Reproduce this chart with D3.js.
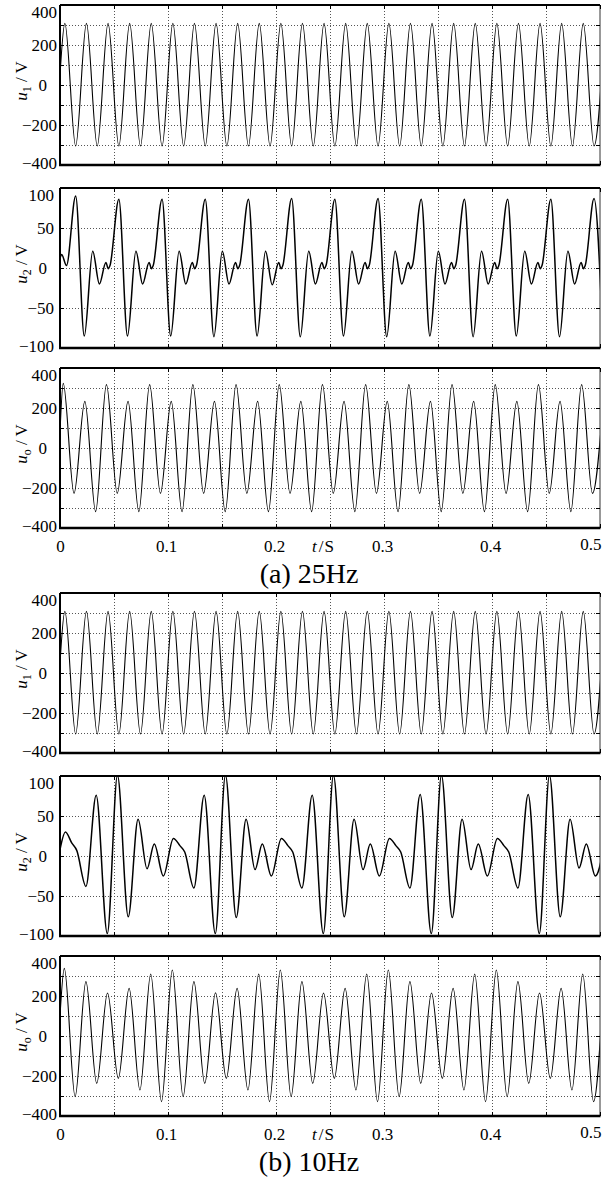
<html>
<head>
  <meta charset="utf-8">
  <script src="https://cdn.jsdelivr.net/npm/d3@7/dist/d3.min.js"></script>
</head>
<style>
  body { margin: 0; background: white; }
  svg, svg text { font-family: "Liberation Serif", "DejaVu Serif", serif; }
  .grid line { stroke: #555; stroke-dasharray: 1,2; }
  .grid path, .ax path { display: none; }
  .ax line { stroke: black; }
  .ax text { font-family: "Liberation Serif", "DejaVu Serif", serif; font-size: 17px; fill: black; }
</style>
<body>
  <svg width="615" height="1182" id="chart"></svg>
  <script>
    // time axis (s)
    var tTicks = [0, 0.05, 0.1, 0.15, 0.2, 0.25, 0.3, 0.35, 0.4, 0.45, 0.5];
    var tLabels = [0, 0.1, 0.2, 0.3, 0.4, 0.5];
    // voltage axes (V)
    var vTicks400 = [-400, -300, -200, -100, 0, 100, 200, 300, 400];
    var vLabels400 = [-400, -200, 0, 200, 400];
    var vTicks100 = [-100, -50, 0, 50, 100];

    // u1: same supply voltage in (a) and (b), [t, v] at the extrema
    var u1 = [
      [0, 50], [0.0045, 308], [0.0145, -305], [0.0245, 308], [0.0345, -305], [0.0445, 308], [0.0545, -305],
      [0.0645, 308], [0.0745, -305], [0.0845, 308], [0.0945, -305], [0.1045, 308], [0.1145, -305],
      [0.1245, 308], [0.1345, -305], [0.1445, 308], [0.1545, -305], [0.1645, 308], [0.1745, -305],
      [0.1845, 308], [0.1945, -305], [0.2045, 308], [0.2145, -305], [0.2245, 308], [0.2345, -305],
      [0.2445, 308], [0.2545, -305], [0.2645, 308], [0.2745, -305], [0.2845, 308], [0.2945, -305],
      [0.3045, 308], [0.3145, -305], [0.3245, 308], [0.3345, -305], [0.3445, 308], [0.3545, -305],
      [0.3645, 308], [0.3745, -305], [0.3845, 308], [0.3945, -305], [0.4045, 308], [0.4145, -305],
      [0.4245, 308], [0.4345, -305], [0.4445, 308], [0.4545, -305], [0.4645, 308], [0.4745, -305],
      [0.4845, 308], [0.4945, -305], [0.5045, 308]
    ];

    // (a) 25Hz
    var u2a = [
      [0, 12], [0.0015, 17], [0.006, 3],
      [0.0145, 90], [0.0225, -85], [0.0303, 21], [0.0365, -20], [0.0425, 7], [0.0447, -1], [0.0463, 3],
      [0.0545, 86], [0.0625, -85], [0.0703, 21], [0.0765, -20], [0.0825, 7], [0.0847, -1], [0.0863, 3],
      [0.0945, 86], [0.1025, -85], [0.1103, 21], [0.1165, -20], [0.1225, 7], [0.1247, -1], [0.1263, 3],
      [0.1345, 86], [0.1425, -86], [0.1503, 21], [0.1565, -20], [0.1625, 7], [0.1647, -1], [0.1663, 3],
      [0.1745, 86], [0.1825, -85], [0.1903, 21], [0.1965, -21], [0.2025, 7], [0.2047, -1], [0.2063, 3],
      [0.2145, 87], [0.2225, -86], [0.2303, 21], [0.2365, -20], [0.2425, 7], [0.2447, -1], [0.2463, 3],
      [0.2545, 86], [0.2625, -85], [0.2703, 21], [0.2765, -20], [0.2825, 7], [0.2847, -1], [0.2863, 3],
      [0.2945, 87], [0.3025, -86], [0.3103, 21], [0.3165, -20], [0.3225, 7], [0.3247, -1], [0.3263, 3],
      [0.3345, 86], [0.3425, -85], [0.3503, 21], [0.3565, -20], [0.3625, 7], [0.3647, -1], [0.3663, 3],
      [0.3745, 86], [0.3825, -86], [0.3903, 21], [0.3965, -20], [0.4025, 7], [0.4047, -1], [0.4063, 3],
      [0.4145, 86], [0.4225, -85], [0.4303, 21], [0.4365, -20], [0.4425, 7], [0.4447, -1], [0.4463, 3],
      [0.4545, 86], [0.4625, -86], [0.4703, 21], [0.4765, -20], [0.4825, 7], [0.4847, -1], [0.4863, 3],
      [0.4945, 87], [0.5025, -85]
    ];
    var uoa = [
      [0, 80],
      [0.003, 323], [0.013, -227], [0.023, 233], [0.033, -318], [0.043, 317], [0.053, -227], [0.063, 233], [0.073, -318],
      [0.083, 317], [0.093, -227], [0.103, 233], [0.113, -318], [0.123, 317], [0.133, -227], [0.143, 233], [0.153, -318],
      [0.163, 317], [0.173, -227], [0.183, 233], [0.193, -318], [0.203, 317], [0.213, -227], [0.223, 233], [0.233, -318],
      [0.243, 317], [0.253, -227], [0.263, 233], [0.273, -318], [0.283, 317], [0.293, -227], [0.303, 233], [0.313, -318],
      [0.323, 317], [0.333, -227], [0.343, 233], [0.353, -318], [0.363, 317], [0.373, -227], [0.383, 233], [0.393, -318],
      [0.403, 317], [0.413, -227], [0.423, 233], [0.433, -318], [0.443, 317], [0.453, -227], [0.463, 233], [0.473, -318],
      [0.483, 317], [0.493, -227], [0.503, 233]
    ];

    // (b) 10Hz
    var u2b = [
      [0, 8], [0.005, 30], [0.011, 16], [0.0155, 7], [0.024, -38], [0.0335, 76], [0.0438, -97], [0.0532, 101], [0.0632, -76], [0.0723, 46], [0.0806, -16], [0.0873, 15], [0.0957, -25],
      [0.105, 22], [0.111, 13], [0.1155, 5], [0.124, -40], [0.1335, 76], [0.1438, -97], [0.1532, 101], [0.1632, -77], [0.1723, 46], [0.1806, -17], [0.1873, 15], [0.1957, -25],
      [0.205, 22], [0.211, 13], [0.2155, 5], [0.224, -40], [0.2335, 76], [0.2438, -97], [0.2532, 101], [0.2632, -76], [0.2723, 46], [0.2806, -17], [0.2873, 15], [0.2957, -25],
      [0.305, 22], [0.311, 13], [0.3155, 5], [0.324, -40], [0.3335, 77], [0.3438, -97], [0.3532, 101], [0.3632, -77], [0.3723, 46], [0.3806, -17], [0.3873, 15], [0.3957, -25],
      [0.405, 22], [0.411, 13], [0.4155, 5], [0.424, -40], [0.4335, 77], [0.4438, -97], [0.4532, 101], [0.4632, -76], [0.4723, 46], [0.4806, -15], [0.4873, 15], [0.4957, -25],
      [0.505, 22]
    ];
    var uob = [
      [0, 100],
      [0.004, 338], [0.014, -303], [0.024, 272], [0.034, -237], [0.044, 215], [0.054, -212], [0.064, 238], [0.074, -270], [0.084, 310], [0.094, -328],
      [0.104, 330], [0.114, -303], [0.124, 272], [0.134, -237], [0.144, 216], [0.154, -212], [0.164, 238], [0.174, -270], [0.184, 310], [0.194, -328],
      [0.204, 330], [0.214, -303], [0.224, 272], [0.234, -237], [0.244, 215], [0.254, -212], [0.264, 238], [0.274, -270], [0.284, 310], [0.294, -328],
      [0.304, 330], [0.314, -303], [0.324, 272], [0.334, -237], [0.344, 215], [0.354, -212], [0.364, 238], [0.374, -270], [0.384, 310], [0.394, -328],
      [0.404, 330], [0.414, -303], [0.424, 272], [0.434, -237], [0.444, 215], [0.454, -212], [0.464, 238], [0.474, -270], [0.484, 310], [0.494, -328],
      [0.504, 330]
    ];

    var panels = [
      { top: 5,   data: u1,  max: 400, ticks: vTicks400, labels: vLabels400, sub: '1', sw: 1.1, pad: 3 },
      { top: 188, data: u2a, max: 100, ticks: vTicks100, labels: vTicks100,  sub: '2', sw: 1.5, pad: 6 },
      { top: 368, data: uoa, max: 400, ticks: vTicks400, labels: vLabels400, sub: 'o', sw: 1.1, pad: 3, xlab: true, caption: '(a) 25Hz' },
      { top: 593, data: u1,  max: 400, ticks: vTicks400, labels: vLabels400, sub: '1', sw: 1.1, pad: 3 },
      { top: 776, data: u2b, max: 100, ticks: vTicks100, labels: vTicks100,  sub: '2', sw: 1.5, pad: 6 },
      { top: 956, data: uob, max: 400, ticks: vTicks400, labels: vLabels400, sub: 'o', sw: 1.1, pad: 3, xlab: true, caption: '(b) 10Hz' }
    ];

    var svg = d3.select('#chart');
    var W = 540, H = 160, L = 60;
    var serif = '"Liberation Serif", "DejaVu Serif", serif';
    var x = d3.scaleLinear().domain([0, 0.5]).range([L, L + W]);
    var fmt = d3.format('d');

    panels.forEach(function (p, i) {
      var y = d3.scaleLinear().domain([-p.max, p.max]).range([p.top + H, p.top]);
      var g = svg.append('g');

      svg.append('clipPath').attr('id', 'clip' + i)
        .append('rect').attr('x', L).attr('y', p.top).attr('width', W).attr('height', H);

      //grid
      g.append('g').attr('class', 'grid')
        .attr('transform', 'translate(0,' + (p.top + H) + ')')
        .call(d3.axisBottom(x).tickValues(tTicks.slice(1, -1)).tickSize(-H).tickFormat(''));
      g.append('g').attr('class', 'grid')
        .attr('transform', 'translate(' + L + ',0)')
        .call(d3.axisLeft(y).tickValues(p.ticks.slice(1, -1)).tickSize(-W).tickFormat(''));

      //waveform
      g.append('path')
        .datum(p.data)
        .attr('clip-path', 'url(#clip' + i + ')')
        .attr('fill', 'none')
        .attr('stroke', 'black')
        .attr('stroke-width', p.sw)
        .attr('stroke-linejoin', 'round')
        .attr('d', d3.line()
          .x(function (d) { return x(d[0]); })
          .y(function (d) { return y(d[1]); })
          .curve(d3.curveMonotoneX));

      //box
      g.append('line').attr('x1', L).attr('x2', L + W).attr('y1', p.top).attr('y2', p.top).attr('stroke', 'black').attr('stroke-width', 2);
      g.append('line').attr('x1', L).attr('x2', L).attr('y1', p.top).attr('y2', p.top + H).attr('stroke', 'black').attr('stroke-width', 2);
      g.append('line').attr('x1', L + W).attr('x2', L + W).attr('y1', p.top).attr('y2', p.top + H).attr('stroke', '#333').attr('stroke-width', 1);
      g.append('line').attr('x1', L - 1).attr('x2', L + W + 0.5).attr('y1', p.top + H).attr('y2', p.top + H).attr('stroke', 'black').attr('stroke-width', 2.5);

      //y ticks + labels
      var ay = g.append('g').attr('class', 'ax')
        .attr('transform', 'translate(' + L + ',0)')
        .call(d3.axisLeft(y).tickValues(p.ticks).tickSize(-4).tickPadding(p.pad)
          .tickFormat(function (d) { return p.labels.indexOf(d) >= 0 ? fmt(d) : ''; }));
      ay.selectAll('.tick text')
        .attr('transform', function (d) {
          if (d === p.max) return 'translate(0,7)';
          if (d === -p.max) return 'translate(0,-2)';
          if (d === 0) return 'translate(' + (p.pad - 13) + ',0)';
          return null;
        });
      g.append('g').attr('class', 'ax')
        .attr('transform', 'translate(' + (L + W) + ',0)')
        .call(d3.axisRight(y).tickValues(p.ticks).tickSize(-4).tickFormat(''));

      //x ticks
      g.append('g').attr('class', 'ax')
        .attr('transform', 'translate(0,' + p.top + ')')
        .call(d3.axisTop(x).tickValues(tTicks).tickSize(-4).tickFormat(''));
      var ax = g.append('g').attr('class', 'ax')
        .attr('transform', 'translate(0,' + (p.top + H) + ')')
        .call(d3.axisBottom(x).tickValues(tTicks).tickSize(-4).tickPadding(12)
          .tickFormat(function (d) { return p.xlab && tLabels.indexOf(d) >= 0 ? d3.format('')(d) : ''; }));
      ax.selectAll('.tick text')
        .attr('text-anchor', function (d) { return d === 0.5 ? 'end' : 'middle'; })
        .attr('transform', function (d) { return d === 0.5 ? 'translate(1,-2)' : d === 0 ? null : 'translate(-2,0)'; });

      //y label
      var yl = svg.append('text')
        .attr('transform', 'translate(27,' + (p.top + H / 2 - 4) + ') rotate(-90)')
        .attr('text-anchor', 'middle')
        .style('font-family', serif)
        .style('font-size', '17px');
      yl.append('tspan').style('font-style', 'italic').text('u');
      yl.append('tspan').attr('dy', 4).style('font-size', '12px').text(p.sub);
      yl.append('tspan').attr('dy', -4).text(' / V');

      if (p.xlab) {
        var xl = svg.append('text')
          .attr('x', 323).attr('y', p.top + H + 24)
          .attr('text-anchor', 'middle')
          .style('font-family', serif)
          .style('font-size', '17px');
        xl.append('tspan').style('font-style', 'italic').text('t');
        xl.append('tspan').attr('dx', 2).text('/');
        xl.append('tspan').attr('dx', 1).text('S');

        svg.append('text')
          .attr('x', 309).attr('y', p.top + H + 55)
          .attr('text-anchor', 'middle')
          .style('font-family', serif)
          .style('font-size', '28px')
          .text(p.caption);
      }
    });
  </script>
</body>
</html>
